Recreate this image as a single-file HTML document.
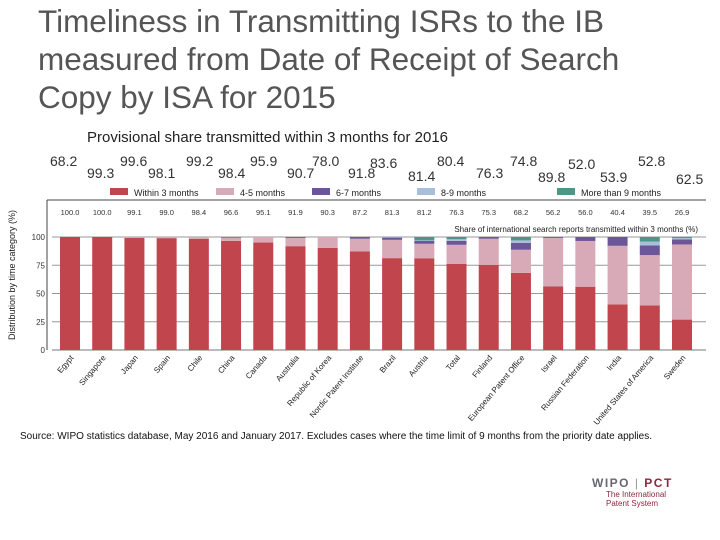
<!DOCTYPE html>
<html><head><meta charset="utf-8">
<style>
body{margin:0;background:#fff;}
#wrap{position:relative;width:720px;height:540px;overflow:hidden;font-family:"Liberation Sans",sans-serif;}
.title{position:absolute;left:38px;top:2px;font-size:31.5px;line-height:38px;color:#555;white-space:nowrap;}
.sub{position:absolute;left:87px;top:129px;font-size:15px;color:#222;}
.pv{position:absolute;font-size:14px;color:#333;}
.src{position:absolute;left:20px;top:431px;font-size:10px;color:#111;white-space:nowrap;}
</style></head>
<body><div id="wrap">
<div class="title">Timeliness in Transmitting ISRs to the IB<br>measured from Date of Receipt of Search<br>Copy by ISA for 2015</div>
<div class="sub">Provisional share transmitted within 3 months for 2016</div>
<div id="pvs"></div>
<svg id="chart" width="720" height="540" style="position:absolute;left:0;top:0"></svg>
<div class="src">Source: WIPO statistics database, May 2016 and January 2017. Excludes cases where the time limit of 9 months from the priority date applies.</div>
<div style="position:absolute;left:592px;top:476px;">
<div style="font-size:12px;font-weight:bold;letter-spacing:1.5px;color:#667;">WIPO<span style="color:#999;font-weight:normal"> | </span><span style="color:#8a2a3e">PCT</span></div>
<div style="font-size:8px;color:#8a2a3e;line-height:9px;margin-left:14px">The International<br>Patent System</div>
</div>
</div>
<script>
const categories=["Egypt","Singapore","Japan","Spain","Chile","China","Canada","Australia","Republic of Korea","Nordic Patent Institute","Brazil","Austria","Total","Finland","European Patent Office","Israel","Russian Federation","India","United States of America","Sweden"];
const within3=[100,100,99.1,99.0,98.4,96.6,95.1,91.9,90.3,87.2,81.3,81.2,76.3,75.3,68.2,56.2,56.0,40.4,39.5,26.9];
const m45=[0,0,0.9,1.0,1.6,2.8,4.9,7.3,9.7,11.3,16.2,12.8,16.8,23.2,20.5,43.0,40.5,51.8,44.5,66.5];
const m67=[0,0,0,0,0,0.6,0,0.8,0,1.5,2.0,2.5,3.5,1.5,6.0,0.8,3.5,7.8,8.5,4.5];
const m89=[0,0,0,0,0,0,0,0,0,0,0.5,0.5,1.4,0,2.3,0,0,0,3.5,1.2];
const m9p=[0,0,0,0,0,0,0,0,0,0,0,3.0,2.0,0,3.0,0,0,0,4.0,0.9];
const shareLabels=["100.0","100.0","99.1","99.0","98.4","96.6","95.1","91.9","90.3","87.2","81.3","81.2","76.3","75.3","68.2","56.2","56.0","40.4","39.5","26.9"];
const provisional=["68.2","99.3","99.6","98.1","99.2","98.4","95.9","90.7","78.0","91.8","83.6","81.4","80.4","76.3","74.8","89.8","52.0","53.9","52.8","62.5"];
const yTicks=[0,25,50,75,100];
const seriesNames=["Within 3 months","4-5 months","6-7 months","8-9 months","More than 9 months"];
const colors=["#c1454c","#d8a9b7","#6b5697","#a9bedb","#4f9588"];

const pvX=[50,87,120,148,186,218,250,287,312,348,370,408,437,476,510,538,568,600,638,676];
const pvY=[153,165,153,165,153,165,153,165,153,165,155,168,153,165,153,169,156,169,153,171];
const pvs=document.getElementById('pvs');
provisional.forEach((v,i)=>{const d=document.createElement('div');d.className='pv';d.textContent=v;d.style.left=pvX[i]+'px';d.style.top=pvY[i]+'px';


pvs.appendChild(d);});

const NS="http://www.w3.org/2000/svg";
const svg=document.getElementById('chart');
function el(t,a,txt){const e=document.createElementNS(NS,t);for(const k in a)e.setAttribute(k,a[k]);if(txt!==undefined)e.textContent=txt;svg.appendChild(e);return e;}
const y0=350,y100=237;
const yS=v=>y0-(v/100)*(y0-y100);
const xS=i=>70+i*((682-70)/(categories.length-1));
const bw=20;
let f=el('line',{x1:47,y1:200,x2:706,y2:200,stroke:'#444','stroke-width':1});

f=el('line',{x1:47,y1:200,x2:47,y2:350,stroke:'#444','stroke-width':1});

yTicks.forEach(t=>{
 const g=el('line',{x1:52,y1:yS(t),x2:706,y2:yS(t),stroke:t===0?'#777':'#999','stroke-width':1});
 
 
 const tx=el('text',{x:45,y:yS(t)+3,'font-size':8,'text-anchor':'end',fill:'#333'},String(t));
 
 
});
const yt=el('text',{x:15,y:275,'font-size':9,'text-anchor':'middle',fill:'#222',transform:'rotate(-90 15 275)'},'Distribution by time category (%)');

const lgX=[110,216,312,417,557];
seriesNames.forEach((n,i)=>{
 const r=el('rect',{x:lgX[i],y:188,width:18,height:7,fill:colors[i]});
 
 const t=el('text',{x:lgX[i]+24,y:196,'font-size':9,fill:'#222'},n);
 
});
const st=el('text',{x:698,y:232,'font-size':8,'text-anchor':'end',fill:'#222'},'Share of international search reports transmitted within 3 months (%)');

const series=[within3,m45,m67,m89,m9p];
categories.forEach((c,i)=>{
 const cx=xS(i);
 let acc=0;
 series.forEach((s,k)=>{
  const v=s[i];if(v<=0)return;
  const r=el('rect',{x:cx-bw/2,y:yS(acc+v),width:bw,height:yS(acc)-yS(acc+v),fill:colors[k]});
  
  
  acc+=v;
 });
 const sl=el('text',{x:cx,y:215,'font-size':7.5,'text-anchor':'middle',fill:'#333'},shareLabels[i]);
 
 
 const xl=el('text',{x:cx+4,y:358,'font-size':8,'text-anchor':'end',fill:'#222',transform:`rotate(-50 ${cx+4} 358)`},c);
 
 
});
</script>
</body></html>
